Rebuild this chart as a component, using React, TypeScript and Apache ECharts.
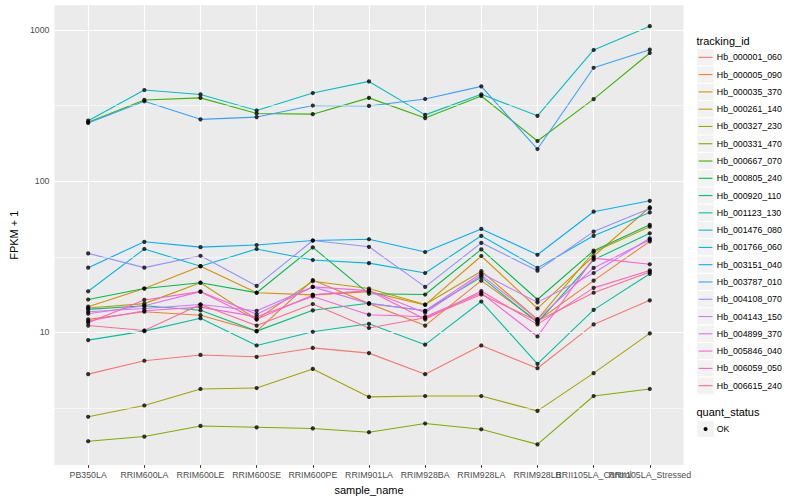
import React, { useEffect, useRef } from "react";
import * as echarts from "echarts";

// ---------- data ----------
const categories = [
  "PB350LA",
  "RRIM600LA",
  "RRIM600LE",
  "RRIM600SE",
  "RRIM600PE",
  "RRIM901LA",
  "RRIM928BA",
  "RRIM928LA",
  "RRIM928LB",
  "RRII105LA_Control",
  "RRII105LA_Stressed",
];

const trackingIds = [
  "Hb_000001_060",
  "Hb_000005_090",
  "Hb_000035_370",
  "Hb_000261_140",
  "Hb_000327_230",
  "Hb_000331_470",
  "Hb_000667_070",
  "Hb_000805_240",
  "Hb_000920_110",
  "Hb_001123_130",
  "Hb_001476_080",
  "Hb_001766_060",
  "Hb_003151_040",
  "Hb_003787_010",
  "Hb_004108_070",
  "Hb_004143_150",
  "Hb_004899_370",
  "Hb_005846_040",
  "Hb_006059_050",
  "Hb_006615_240",
];

const trackingColors = [
  "#F8766D", "#EA8331", "#D89000", "#C09B00", "#A3A500",
  "#7CAE00", "#39B600", "#00BB4E", "#00BF7D", "#00C1A3",
  "#00BFC4", "#00BAE0", "#00B0F6", "#35A2FF", "#9590FF",
  "#C77CFF", "#E76BF3", "#FA62DB", "#FF62BC", "#FF6C91",
];

// FPKM + 1 per sample (order = categories)
const hb000001_060 = [5.3, 6.5, 7.1, 6.9, 7.9, 7.3, 5.3, 8.2, 5.8, 11.3, 16.3];
const hb000005_090 = [12.2, 13.7, 13.0, 10.2, 22.2, 15.5, 11.1, 22.0, 11.9, 22.0, 40.0];
const hb000035_370 = [14.8, 19.5, 27.4, 18.3, 17.7, 18.6, 15.2, 32.0, 14.4, 31.9, 67.2];
const hb000261_140 = [14.5, 15.5, 21.3, 12.2, 21.8, 19.5, 15.3, 25.4, 12.2, 34.0, 50.0];
const hb000327_230 = [2.77, 3.29, 4.23, 4.29, 5.74, 3.75, 3.8, 3.8, 3.03, 5.38, 9.85];
const hb000331_470 = [1.91, 2.05, 2.41, 2.36, 2.32, 2.19, 2.5, 2.29, 1.82, 3.8, 4.23];
const hb000667_070 = [245, 344, 355, 280, 277, 355, 261, 365, 184, 348, 703];
const hb000805_240 = [16.5, 19.5, 21.3, 18.3, 36.5, 18.0, 17.8, 35.4, 16.5, 34.7, 51.4];
const hb000920_110 = [14.2, 15.0, 14.0, 10.2, 14.0, 15.6, 13.9, 23.2, 11.6, 30.2, 45.2];
const hb001123_130 = [8.9, 10.2, 12.4, 8.2, 10.1, 11.4, 8.3, 16.0, 6.2, 14.1, 24.4];
const hb001476_080 = [251, 400, 374, 293, 382, 456, 274, 375, 270, 736, 1057];
const hb001766_060 = [18.7, 35.6, 27.4, 35.6, 30.1, 28.7, 24.7, 43.5, 26.7, 43.5, 62.1];
const hb003151_040 = [26.8, 39.7, 36.6, 37.8, 40.5, 41.3, 34.0, 48.3, 32.6, 62.8, 74.1];
const hb003787_010 = [242, 337, 256, 265, 316, 314, 349, 423, 163, 561, 739];
const hb004108_070 = [33.3, 26.8, 32.1, 20.3, 40.5, 36.8, 20.0, 39.1, 25.6, 46.4, 66.0];
const hb004143_150 = [13.7, 14.4, 15.3, 13.9, 20.0, 15.5, 13.9, 24.6, 15.8, 24.7, 41.9];
const hb004899_370 = [13.3, 15.0, 18.6, 13.2, 20.0, 18.9, 13.5, 23.9, 12.2, 26.7, 41.0];
const hb005846_040 = [11.9, 13.9, 14.7, 12.7, 17.3, 13.1, 12.7, 18.2, 9.4, 31.0, 28.2];
const hb006059_050 = [11.6, 16.4, 18.6, 12.2, 17.7, 18.9, 12.2, 18.8, 11.3, 19.7, 25.7];
const hb006615_240 = [11.1, 10.3, 15.3, 11.1, 15.4, 10.7, 12.5, 17.8, 11.9, 18.3, 25.1];

const seriesValues = [
  hb000001_060, hb000005_090, hb000035_370, hb000261_140, hb000327_230,
  hb000331_470, hb000667_070, hb000805_240, hb000920_110, hb001123_130,
  hb001476_080, hb001766_060, hb003151_040, hb003787_010, hb004108_070,
  hb004143_150, hb004899_370, hb005846_040, hb006059_050, hb006615_240,
];

const quantStatus = ["OK"];
const yMajorTicks = [10, 100, 1000];
const yMinorBreaks = [3.1623, 31.623, 316.23];
const yLimits = [1.328, 1452];
const xLimits = [-0.6, 10.6];

// ---------- layout constants ----------
const FONT = '"Liberation Sans", Arial, Helvetica, sans-serif';
const PANEL = { left: 45, top: 5.3, right: 683.5, bottom: 468.7 };
const W = 800;
const H = 500;
const KEY = 17.28;

function buildLegend() {
  const els: any[] = [];
  const x0 = 696.5;
  els.push({
    type: "text",
    x: x0,
    y: 40.7,
    style: { text: "tracking_id", font: `11px ${FONT}`, fill: "#000", verticalAlign: "middle", align: "left" },
  });
  const top0 = 48.7;
  trackingIds.forEach((id, i) => {
    const y = top0 + i * KEY;
    els.push({
      type: "rect",
      shape: { x: x0 + 0.4, y, width: KEY, height: KEY },
      style: { fill: "#F2F2F2", stroke: "#FFFFFF", lineWidth: 1 },
    });
    els.push({
      type: "line",
      shape: { x1: x0 + 0.4 + KEY * 0.1, y1: y + KEY / 2, x2: x0 + 0.4 + KEY * 0.9, y2: y + KEY / 2 },
      style: { stroke: trackingColors[i], lineWidth: 1.1 },
    });
    els.push({
      type: "text",
      x: x0 + KEY + 3,
      y: y + KEY / 2,
      style: { text: id, font: `8.8px ${FONT}`, fill: "#000", verticalAlign: "middle", align: "left" },
    });
  });
  els.push({
    type: "text",
    x: x0,
    y: 412.3,
    style: { text: "quant_status", font: `11px ${FONT}`, fill: "#000", verticalAlign: "middle", align: "left" },
  });
  quantStatus.forEach((q, i) => {
    const y = 420.4 + i * KEY;
    els.push({
      type: "rect",
      shape: { x: x0 + 0.4, y, width: KEY, height: KEY },
      style: { fill: "#F2F2F2", stroke: "#FFFFFF", lineWidth: 1 },
    });
    els.push({
      type: "circle",
      shape: { cx: x0 + 0.4 + KEY / 2, cy: y + KEY / 2, r: 2.0 },
      style: { fill: "#000" },
    });
    els.push({
      type: "text",
      x: x0 + KEY + 3,
      y: y + KEY / 2,
      style: { text: q, font: `8.8px ${FONT}`, fill: "#000", verticalAlign: "middle", align: "left" },
    });
  });
  return els;
}

const labelStyle = {
  color: "#4D4D4D",
  fontSize: 8.8,
  fontFamily: FONT,
  margin: 5,
  hideOverlap: false,
  showMinLabel: true,
  showMaxLabel: true,
};

// an x axis that only carries labels for the given category indices
function labelAxis(indices: number[]) {
  return {
    type: "value",
    position: "bottom",
    gridIndex: 0,
    min: xLimits[0],
    max: xLimits[1],
    axisLine: { show: false },
    axisTick: { show: false },
    splitLine: { show: false },
    minorSplitLine: { show: false },
    axisLabel: {
      ...labelStyle,
      customValues: indices,
      formatter: (v: number) => categories[Math.round(v)] ?? "",
    },
  };
}

function buildOption() {
  const xIdx = categories.map((_, i) => i);
  const n = categories.length;

  const gridLines: any[] = [
    ...yMinorBreaks.map((v) => ({ yAxis: v, lineStyle: { color: "#FFFFFF", width: 0.55, type: "solid" } })),
    ...yMajorTicks.map((v) => ({ yAxis: v, lineStyle: { color: "#FFFFFF", width: 1.1, type: "solid" } })),
    ...xIdx.map((i) => ({ xAxis: i, lineStyle: { color: "#FFFFFF", width: 1.1, type: "solid" } })),
  ];

  const lineSeries = trackingIds.map((id, s) => ({
    type: "line",
    name: id,
    xAxisIndex: 0,
    data: seriesValues[s].map((v, i) => [i, v]),
    showSymbol: false,
    symbol: "none",
    silent: true,
    z: 3,
    lineStyle: { color: trackingColors[s], width: 1.1 },
    itemStyle: { color: trackingColors[s] },
  }));

  const pointData: any[] = [];
  seriesValues.forEach((vals) => vals.forEach((v, i) => pointData.push([i, v])));

  return {
    animation: false,
    backgroundColor: "#FFFFFF",
    textStyle: { fontFamily: FONT },
    grid: {
      left: PANEL.left,
      top: PANEL.top,
      right: W - PANEL.right,
      bottom: H - PANEL.bottom,
      show: true,
      backgroundColor: "#EBEBEB",
      borderWidth: 0,
      containLabel: false,
    },
    xAxis: [
      {
        type: "value",
        position: "bottom",
        min: xLimits[0],
        max: xLimits[1],
        axisLine: { show: false },
        splitLine: { show: false },
        minorSplitLine: { show: false },
        axisTick: {
          show: true,
          customValues: xIdx,
          length: 2.75,
          lineStyle: { color: "#333333", width: 1.07 },
        },
        axisLabel: {
          ...labelStyle,
          customValues: xIdx.slice(0, n - 2),
          formatter: (v: number) => categories[Math.round(v)] ?? "",
        },
        name: "sample_name",
        nameLocation: "middle",
        nameGap: 14,
        nameTextStyle: { color: "#000000", fontSize: 11, fontFamily: FONT },
      },
      labelAxis([n - 2]),
      labelAxis([n - 1]),
    ],
    yAxis: {
      type: "log",
      logBase: 10,
      min: yLimits[0],
      max: yLimits[1],
      axisLine: { show: false },
      splitLine: { show: false },
      minorSplitLine: { show: false },
      axisTick: {
        show: true,
        customValues: yMajorTicks,
        length: 2.75,
        lineStyle: { color: "#333333", width: 1.07 },
      },
      axisLabel: {
        ...labelStyle,
        customValues: yMajorTicks,
        formatter: (v: number) => String(Math.round(v)),
      },
      name: "FPKM + 1",
      nameLocation: "middle",
      nameRotate: 90,
      nameGap: 27,
      nameTextStyle: { color: "#000000", fontSize: 11, fontFamily: FONT },
    },
    graphic: { elements: buildLegend() },
    series: [
      {
        type: "line",
        name: "__grid",
        xAxisIndex: 0,
        data: [],
        silent: true,
        z: 1,
        markLine: {
          silent: true,
          symbol: ["none", "none"],
          label: { show: false },
          animation: false,
          data: gridLines,
        },
      },
      ...lineSeries,
      {
        type: "scatter",
        name: "OK",
        xAxisIndex: 0,
        data: pointData,
        symbol: "circle",
        symbolSize: 4.2,
        silent: true,
        z: 5,
        itemStyle: { color: "#000000" },
      },
    ],
  };
}

export default function App() {
  const ref = useRef<HTMLDivElement | null>(null);
  useEffect(() => {
    if (!ref.current) return;
    const chart = echarts.init(ref.current, undefined, { renderer: "svg", width: W, height: H });
    chart.setOption(buildOption() as any);
    return () => chart.dispose();
  }, []);
  return (
    <div
      ref={ref}
      style={{ position: "fixed", left: 0, top: 0, width: W, height: H, background: "#fff" }}
    />
  );
}
